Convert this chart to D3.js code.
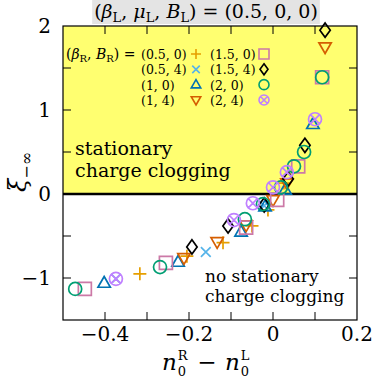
<!DOCTYPE html>
<html>
<head>
<meta charset="utf-8">
<script src="https://cdn.jsdelivr.net/npm/d3@7"></script>
<style>
body { margin: 0; background: #fff; }
</style>
</head>
<body>
<div id="myGraph"></div>
<script>
// tick values
var xTickLabels = [-0.4, -0.2, 0, 0.2];
var xTickMarks = [-0.4, -0.3, -0.2, -0.1, 0, 0.1];
var yTickLabels = [-1, 0, 1, 2];
var yTickMarks = [-1, -0.5, 0, 0.5, 1, 1.5];

// legend entries, (beta_R, B_R)
var legendLabels = ['(0.5, 0)', '(0.5, 4)', '(1, 0)', '(1, 4)', '(1.5, 0)', '(1.5, 4)', '(2, 0)', '(2, 4)'];

// [n0R - n0L, xi_-inf]
var beta05B0 = [[-0.317, -0.95], [-0.205, -0.74], [-0.119, -0.58], [-0.050, -0.38], [-0.012, -0.19], [0.026, 0.13]];
var beta05B4 = [[-0.374, -1.01], [-0.160, -0.69], [-0.021, -0.14]];
var beta1B0 = [[-0.402, -1.06], [-0.226, -0.81], [-0.076, -0.45], [-0.019, -0.15], [0.029, 0.05], [0.095, 0.83]];
var beta1B4 = [[-0.212, -0.76], [-0.133, -0.57], [-0.064, -0.37], [0.0, -0.07], [0.033, 0.13], [0.124, 1.75]];
var beta15B0 = [[-0.448, -1.13], [-0.255, -0.82], [-0.064, -0.40], [0.010, -0.07], [0.060, 0.33], [0.117, 1.39]];
var beta15B4 = [[-0.193, -0.63], [-0.107, -0.38], [-0.021, -0.13], [0.036, 0.18], [0.076, 0.58], [0.124, 1.95]];
var beta2B0 = [[-0.471, -1.13], [-0.269, -0.87], [-0.067, -0.30], [-0.024, -0.12], [0.019, 0.08], [0.050, 0.33], [0.074, 0.50], [0.117, 1.39]];
var beta2B4 = [[-0.374, -1.01], [-0.093, -0.31], [-0.048, -0.11], [0.0, 0.08], [0.033, 0.26], [0.100, 0.89]];

var seriesList = [beta05B0, beta05B4, beta1B0, beta1B4, beta15B0, beta15B4, beta2B0, beta2B4];
var markerKinds = ['plus', 'cross', 'triUp', 'triDown', 'square', 'diamond', 'circle', 'circleX'];
var markerColors = ['#e69f00', '#56b4e9', '#0072b2', '#d55e00', '#cc79a7', '#000000', '#009e73', '#c080ff'];

var opts = {
    width: 382,
    height: 382,
    margins: { top: 26, right: 25, bottom: 62, left: 63 },
    font: '"DejaVu Serif", "Liberation Serif", serif'
};

function markerPath(kind, s) {
    var k = s * 0.75;
    var circ = 'M' + s + ',0A' + s + ',' + s + ' 0 1 1 ' + (-s) + ',0A' + s + ',' + s + ' 0 1 1 ' + s + ',0Z';
    switch (kind) {
        case 'plus': return 'M' + (-s) + ',0H' + s + 'M0,' + (-s) + 'V' + s;
        case 'cross': return 'M' + (-k) + ',' + (-k) + 'L' + k + ',' + k + 'M' + (-k) + ',' + k + 'L' + k + ',' + (-k);
        case 'triUp': return 'M0,' + (-s) + 'L' + (s * 0.95) + ',' + (s * 0.65) + 'L' + (-s * 0.95) + ',' + (s * 0.65) + 'Z';
        case 'triDown': return 'M0,' + s + 'L' + (s * 0.95) + ',' + (-s * 0.65) + 'L' + (-s * 0.95) + ',' + (-s * 0.65) + 'Z';
        case 'square': return 'M' + (-s) + ',' + (-s) + 'H' + s + 'V' + s + 'H' + (-s) + 'Z';
        case 'diamond': return 'M0,' + (-s * 1.1) + 'L' + (s * 0.8) + ',0L0,' + (s * 1.1) + 'L' + (-s * 0.8) + ',0Z';
        case 'circle': return circ;
        case 'circleX':
            var c = s * 0.7;
            return circ + 'M' + (-c) + ',' + (-c) + 'L' + c + ',' + c + 'M' + (-c) + ',' + c + 'L' + c + ',' + (-c);
    }
}

function fmt(v) {
    return v < 0 ? '\u2212' + Math.abs(v) : String(v);
}

// n_0^X drawn as separate pieces so sub and superscript stack
function nSymbol(svg, x0, base, letter) {
    var n = svg.append('text').attr('x', x0).attr('y', base)
        .attr('font-size', 23).attr('font-style', 'italic').text('n');
    var w = n.node().getComputedTextLength();
    svg.append('text').attr('x', x0 + w + 1).attr('y', base - 10)
        .attr('font-size', 13).text(letter);
    svg.append('text').attr('x', x0 + w + 1).attr('y', base + 6)
        .attr('font-size', 13).text('0');
}

function chart() {
    var chartW = opts.width - opts.margins.left - opts.margins.right;
    var chartH = opts.height - opts.margins.top - opts.margins.bottom;

    var svg = d3.select('#myGraph').html('').append('svg')
        .attr('width', opts.width)
        .attr('height', opts.height)
        .attr('font-family', opts.font);

    var x = d3.scaleLinear().domain([-0.5, 0.2]).range([opts.margins.left, opts.margins.left + chartW]);
    var y = d3.scaleLinear().domain([-1.5, 2]).range([opts.margins.top + chartH, opts.margins.top]);

    // yellow region above zero
    svg.append('rect')
        .attr('x', x(-0.5)).attr('y', y(2))
        .attr('width', x(0.2) - x(-0.5)).attr('height', y(0) - y(2))
        .style('fill', '#ffff70');

    // title with grey box
    var title = svg.append('text')
        .attr('x', 206).attr('y', 18)
        .attr('text-anchor', 'middle')
        .attr('font-size', 19);
    title.append('tspan').text('(');
    title.append('tspan').attr('font-style', 'italic').text('\u03b2');
    title.append('tspan').attr('font-size', 13).attr('dy', 4).text('L');
    title.append('tspan').attr('dy', -4).text(', ');
    title.append('tspan').attr('font-style', 'italic').text('\u03bc');
    title.append('tspan').attr('font-size', 13).attr('dy', 4).text('L');
    title.append('tspan').attr('dy', -4).text(', ');
    title.append('tspan').attr('font-style', 'italic').text('B');
    title.append('tspan').attr('font-size', 13).attr('dy', 4).text('L');
    title.append('tspan').attr('dy', -4).text(') = (0.5, 0, 0)');
    var tb = title.node().getBBox();
    svg.insert('rect', 'text')
        .attr('x', tb.x - 2).attr('y', 0)
        .attr('width', tb.width + 4).attr('height', 24)
        .style('fill', '#e4e4e4');

    // zero line
    svg.append('line')
        .attr('x1', x(-0.5)).attr('x2', x(0.2))
        .attr('y1', y(0)).attr('y2', y(0))
        .style('stroke', '#000').style('stroke-width', 2.5);

    // ticks, inside on all four sides
    var tl = 8;
    xTickMarks.forEach(function (v) {
        svg.append('line').attr('x1', x(v)).attr('x2', x(v))
            .attr('y1', y(-1.5)).attr('y2', y(-1.5) - tl).style('stroke', '#000');
        svg.append('line').attr('x1', x(v)).attr('x2', x(v))
            .attr('y1', y(2)).attr('y2', y(2) + tl).style('stroke', '#000');
    });
    yTickMarks.forEach(function (v) {
        svg.append('line').attr('x1', x(-0.5)).attr('x2', x(-0.5) + tl)
            .attr('y1', y(v)).attr('y2', y(v)).style('stroke', '#000');
        svg.append('line').attr('x1', x(0.2)).attr('x2', x(0.2) - tl)
            .attr('y1', y(v)).attr('y2', y(v)).style('stroke', '#000');
    });

    svg.selectAll('text.xtick').data(xTickLabels).enter().append('text')
        .attr('class', 'xtick')
        .attr('x', d => x(d)).attr('y', 341)
        .attr('text-anchor', 'middle').attr('font-size', 20)
        .text(fmt);

    svg.selectAll('text.ytick').data(yTickLabels).enter().append('text')
        .attr('class', 'ytick')
        .attr('x', 51).attr('y', d => y(d) + 7)
        .attr('text-anchor', 'end').attr('font-size', 20)
        .text(fmt);

    // frame
    svg.append('rect')
        .attr('x', x(-0.5)).attr('y', y(2))
        .attr('width', x(0.2) - x(-0.5)).attr('height', y(-1.5) - y(2))
        .style('fill', 'none').style('stroke', '#000').style('stroke-width', 1.2);

    // axis labels
    nSymbol(svg, 162, 370, 'R');
    svg.append('text').attr('x', 207).attr('y', 370)
        .attr('text-anchor', 'middle').attr('font-size', 23).text('\u2212');
    nSymbol(svg, 225, 370, 'L');

    var yl = svg.append('text')
        .attr('transform', 'translate(26,172) rotate(-90)')
        .attr('text-anchor', 'middle').attr('font-size', 24);
    yl.append('tspan').attr('font-style', 'italic').text('\u03be');
    yl.append('tspan').attr('font-size', 16).attr('dy', 6).text('\u2212\u221e');

    // region annotations
    svg.append('text').attr('x', 75).attr('y', 155).attr('font-size', 19).text('stationary');
    svg.append('text').attr('x', 75).attr('y', 177).attr('font-size', 19).text('charge clogging');
    svg.append('text').attr('x', 205).attr('y', 282).attr('font-size', 17).text('no stationary');
    svg.append('text').attr('x', 205).attr('y', 302).attr('font-size', 17).text('charge clogging');

    // data markers
    seriesList.forEach(function (pts, i) {
        svg.selectAll('path.s' + i).data(pts).enter().append('path')
            .attr('class', 's' + i)
            .attr('transform', d => 'translate(' + x(d[0]) + ',' + y(d[1]) + ')')
            .attr('d', markerPath(markerKinds[i], 6.5))
            .style('fill', 'none')
            .style('stroke', markerColors[i])
            .style('stroke-width', 1.7);
    });

    // legend
    var lg = svg.append('text').attr('x', 66).attr('y', 59).attr('font-size', 14);
    lg.append('tspan').text('(');
    lg.append('tspan').attr('font-style', 'italic').text('\u03b2');
    lg.append('tspan').attr('font-size', 10).attr('dy', 3).text('R');
    lg.append('tspan').attr('dy', -3).text(', ');
    lg.append('tspan').attr('font-style', 'italic').text('B');
    lg.append('tspan').attr('font-size', 10).attr('dy', 3).text('R');
    lg.append('tspan').attr('dy', -3).text(') =');

    var rowY = d3.scaleLinear().domain([0, 3]).range([54, 100]);
    legendLabels.forEach(function (lab, i) {
        var col = Math.floor(i / 4), row = i % 4;
        svg.append('text')
            .attr('x', col ? 210 : 141).attr('y', rowY(row) + 5)
            .attr('font-size', 12.5).text(lab);
        svg.append('path')
            .attr('transform', 'translate(' + (col ? 264 : 196) + ',' + rowY(row) + ')')
            .attr('d', markerPath(markerKinds[i], 5))
            .style('fill', 'none')
            .style('stroke', markerColors[i])
            .style('stroke-width', 1.6);
    });
}

chart();
</script>
</body>
</html>
